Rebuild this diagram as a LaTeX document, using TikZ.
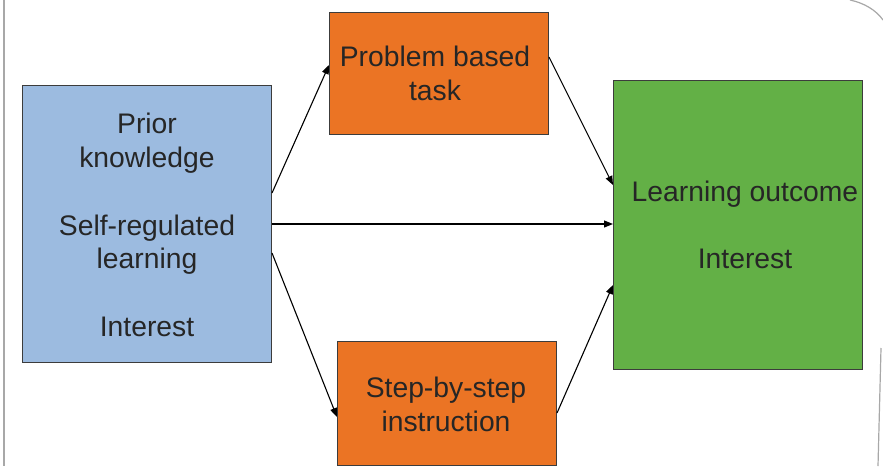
\documentclass[tikz,border=0pt]{standalone}
\usepackage{fontspec}
\setmainfont{Liberation Sans}
\usetikzlibrary{calc,arrows.meta}
\definecolor{boxblue}{HTML}{9CBBE0}
\definecolor{boxorange}{HTML}{EB7424}
\definecolor{boxgreen}{HTML}{63B046}
\definecolor{txt}{HTML}{262626}
\definecolor{edge}{HTML}{3C3C3C}
\definecolor{slide}{HTML}{A8A8A8}
\tikzset{
  box/.style={draw=edge, line width=1pt, rectangle, inner sep=0pt, anchor=north west},
  lbl/.style={font=\fontsize{28.3}{33.8}\selectfont, text=txt, align=center, inner sep=0pt},
  conn/.style={draw=black, line width=1.1pt, -{Triangle[length=9pt,width=7pt]}},
  slideedge/.style={draw=slide, line width=1.2pt}
}
\begin{document}
\begin{tikzpicture}[x=1pt,y=-1pt]
\useasboundingbox (0,0) rectangle (883,466);
% slide border
\draw[slideedge] (4,0) -- (4,466);
\draw[slideedge] (850,0) .. controls (864,3) and (876,10) .. (883,20);
\draw[slideedge] (881,348) -- (878,466);
% boxes
\node[box, fill=boxblue, minimum width=249pt, minimum height=277pt] (blue) at (22,85) {};
\node[lbl] (bluetxt) at ($(blue.center)+(0,1)$)
  {Prior\\knowledge\\[33.8pt]Self-regulated\\learning\\[33.8pt]Interest};
\node[box, fill=boxorange, minimum width=219pt, minimum height=122pt] (task) at (329,12) {};
\node[lbl] (tasktxt) at ($(task.center)+(-4,0)$) {Problem based\\task};
\begin{scope}
\clip (0,0) rectangle (883,466);
\node[box, fill=boxorange, minimum width=219pt, minimum height=124pt] (step) at (337,341) {};
\end{scope}
\node[lbl] (steptxt) at ($(step.center)+(-1,1)$) {Step-by-step\\instruction};
\node[box, fill=boxgreen, minimum width=249pt, minimum height=289pt] (green) at (613,80) {};
\node[lbl] (greentxt) at ($(green.center)+(7,0)$) {Learning outcome\\[33.8pt]Interest};
% connectors
\draw[conn] ($(blue.north east)+(0,108)$) -- ($(task.north west)+(0,53)$);
\draw[conn] ($(blue.north east)+(0,139)$) -- ($(green.north west)+(0,144)$);
\draw[conn] ($(blue.north east)+(0,168)$) -- ($(step.north west)+(0,76)$);
\draw[conn] ($(task.north east)+(0,45)$) -- ($(green.north west)+(0,105)$);
\draw[conn] ($(step.north east)+(0,72)$) -- ($(green.north west)+(0,205)$);
\end{tikzpicture}
\end{document}
